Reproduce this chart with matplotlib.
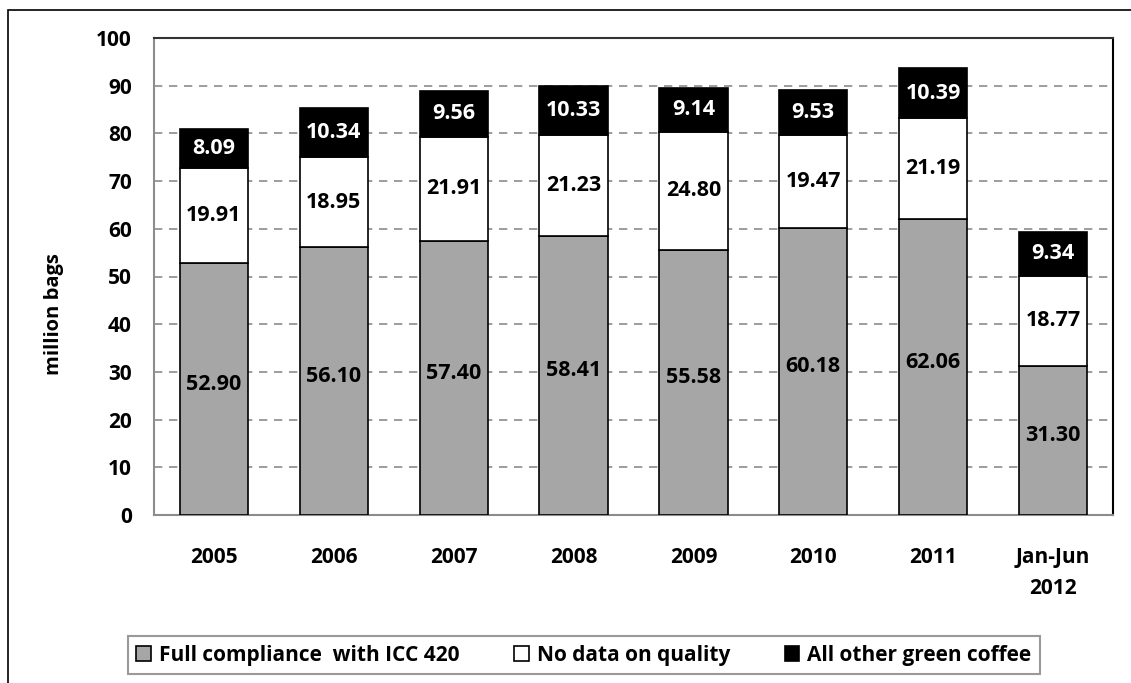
import matplotlib.pyplot as plt
from matplotlib.patches import Rectangle

categories = ["2005", "2006", "2007", "2008", "2009", "2010", "2011", "Jan-Jun\n2012"]
full_compliance = [52.90, 56.10, 57.40, 58.41, 55.58, 60.18, 62.06, 31.30]
no_data = [19.91, 18.95, 21.91, 21.23, 24.80, 19.47, 21.19, 18.77]
other_green = [8.09, 10.34, 9.56, 10.33, 9.14, 9.53, 10.39, 9.34]

plt.rcParams['font.family'] = ['Open Sans', 'DejaVu Sans']
plt.rcParams['font.weight'] = 'bold'

W, H = 1131, 683
fig = plt.figure(figsize=(W / 100, H / 100), dpi=100)
ax = fig.add_axes([154 / W, 1 - 515 / H, (1113 - 154) / W, (515 - 38) / H])

# outer chart border
fig.patches.append(Rectangle((8 / W, -0.1), 1.2, 1 - 10 / H + 0.1, transform=fig.transFigure,
                             fill=False, edgecolor='black', linewidth=1.2))

x = list(range(len(categories)))
bw = 0.57
bottom2 = full_compliance
bottom3 = [a + b for a, b in zip(full_compliance, no_data)]

b1 = ax.bar(x, full_compliance, bw, color='#a6a6a6', edgecolor='black', linewidth=1.2,
            label='Full compliance  with ICC 420', zorder=3)
b2 = ax.bar(x, no_data, bw, bottom=bottom2, color='white', edgecolor='black', linewidth=1.2,
            label='No data on quality', zorder=3)
b3 = ax.bar(x, other_green, bw, bottom=bottom3, color='black', edgecolor='black', linewidth=1.2,
            label='All other green coffee', zorder=3)

for i in x:
    ax.text(i, full_compliance[i] / 2 + 1, f"{full_compliance[i]:.2f}", ha='center', va='center',
            fontsize=15.5, fontweight='bold', color='black', zorder=4)
    ax.text(i, bottom2[i] + no_data[i] / 2, f"{no_data[i]:.2f}", ha='center', va='center',
            fontsize=15.5, fontweight='bold', color='black', zorder=4)
    ax.text(i, bottom3[i] + other_green[i] / 2, f"{other_green[i]:.2f}", ha='center', va='center',
            fontsize=15.5, fontweight='bold', color='white', zorder=4)

ax.set_xlim(-0.5, len(categories) - 0.5)
ax.set_ylim(0, 100)
ax.set_yticks(range(0, 101, 10))
ax.set_xticks(x)
ax.set_xticklabels(categories, fontsize=15, fontweight='bold', linespacing=1.6)
ax.tick_params(axis='x', length=0, pad=23)
ax.tick_params(axis='y', length=0, pad=16, labelsize=15)
for lab in ax.get_yticklabels():
    lab.set_fontweight('bold')

ax.yaxis.grid(True, linestyle=(0, (5, 4)), color='#8c8c8c', linewidth=1.2, zorder=0)
ax.set_axisbelow(True)
ax.spines['left'].set_color('#8c8c8c')
ax.spines['bottom'].set_color('#8c8c8c')
ax.spines['top'].set_color('#333333')
ax.spines['right'].set_color('black')
for s in ax.spines.values():
    s.set_linewidth(1.5)

ax.set_ylabel('million bags', fontsize=14.5, fontweight='bold')
ax.yaxis.set_label_coords(-90 / (1113 - 154), 1 - (314 - 38) / (515 - 38))

leg = fig.legend(handles=[b1, b2, b3], loc='center', bbox_to_anchor=(584 / W, 1 - 655 / H),
                 ncol=3, frameon=True, fancybox=False, edgecolor='#808080',
                 prop={'size': 15, 'weight': 'bold'}, handlelength=0.7, handleheight=0.7,
                 handletextpad=0.4, columnspacing=2.6, borderpad=0.4)
leg.get_frame().set_linewidth(1.5)

fig.savefig('out.png', dpi=100)
